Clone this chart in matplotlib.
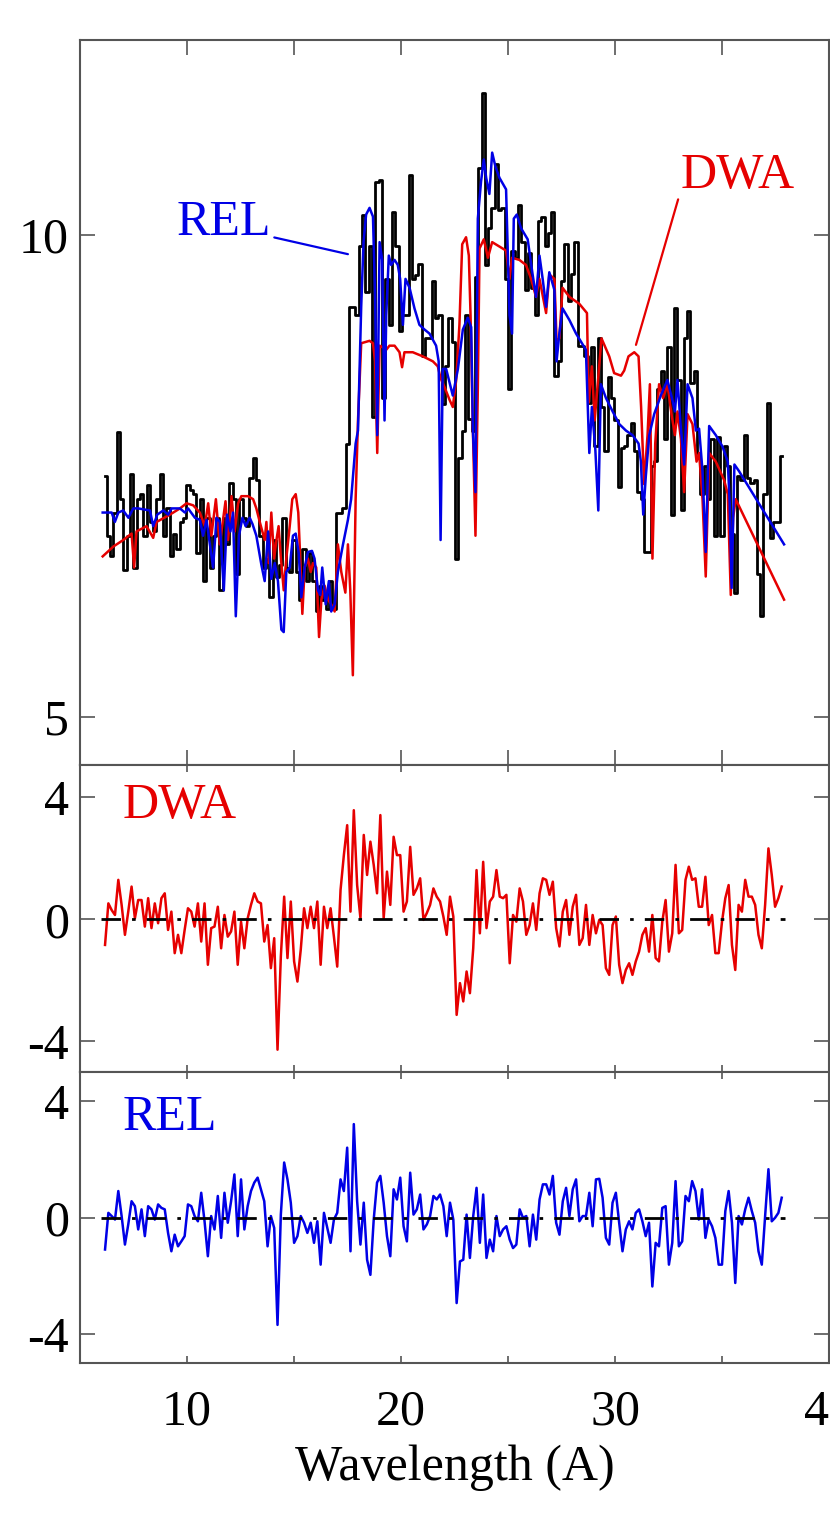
import matplotlib
matplotlib.use('Agg')
import matplotlib.pyplot as plt
from matplotlib.ticker import MultipleLocator, FixedLocator, FixedFormatter, NullLocator

plt.rcParams['font.family'] = ['Liberation Serif', 'DejaVu Serif']
plt.rcParams['axes.unicode_minus'] = False

# bin centres (Angstrom), shared by the data histogram and both residual series
wave = [
    6.170, 6.325, 6.480, 6.635, 6.790, 6.945, 7.100, 7.255, 7.410, 7.565,
    7.720, 7.875, 8.030, 8.185, 8.340, 8.495, 8.650, 8.805, 8.960, 9.115,
    9.270, 9.425, 9.580, 9.735, 9.890, 10.045, 10.200, 10.355, 10.510, 10.665,
    10.820, 10.975, 11.130, 11.285, 11.440, 11.595, 11.750, 11.905, 12.060, 12.215,
    12.370, 12.525, 12.680, 12.835, 12.990, 13.145, 13.300, 13.455, 13.610, 13.765,
    13.920, 14.075, 14.230, 14.385, 14.540, 14.695, 14.850, 15.005, 15.160, 15.315,
    15.470, 15.625, 15.780, 15.935, 16.090, 16.245, 16.400, 16.555, 16.710, 16.865,
    17.020, 17.175, 17.330, 17.485, 17.640, 17.795, 17.950, 18.105, 18.260, 18.415,
    18.570, 18.725, 18.880, 19.035, 19.190, 19.345, 19.500, 19.655, 19.810, 19.965,
    20.120, 20.275, 20.430, 20.585, 20.740, 20.895, 21.050, 21.205, 21.360, 21.515,
    21.670, 21.825, 21.980, 22.135, 22.290, 22.445, 22.600, 22.755, 22.910, 23.065,
    23.220, 23.375, 23.530, 23.685, 23.840, 23.995, 24.150, 24.305, 24.460, 24.615,
    24.770, 24.925, 25.080, 25.235, 25.390, 25.545, 25.700, 25.855, 26.010, 26.165,
    26.320, 26.475, 26.630, 26.785, 26.940, 27.095, 27.250, 27.405, 27.560, 27.715,
    27.870, 28.025, 28.180, 28.335, 28.490, 28.645, 28.800, 28.955, 29.110, 29.265,
    29.420, 29.575, 29.730, 29.885, 30.040, 30.195, 30.350, 30.505, 30.660, 30.815,
    30.970, 31.125, 31.280, 31.435, 31.590, 31.745, 31.900, 32.055, 32.210, 32.365,
    32.520, 32.675, 32.830, 32.985, 33.140, 33.295, 33.450, 33.605, 33.760, 33.915,
    34.070, 34.225, 34.380, 34.535, 34.690, 34.845, 35.000, 35.155, 35.310, 35.465,
    35.620, 35.775, 35.930, 36.085, 36.240, 36.395, 36.550, 36.705, 36.860, 37.015,
    37.170, 37.325, 37.480, 37.635, 37.790,
]

# observed spectrum
data_flux = [
    7.07, 6.49, 6.30, 6.71, 7.53, 6.84, 6.18, 6.49, 7.09, 6.20,
    6.84, 6.89, 6.49, 6.98, 6.62, 6.53, 6.84, 7.09, 6.49, 6.75,
    6.30, 6.51, 6.37, 6.62, 6.66, 6.98, 6.93, 6.89, 6.33, 6.84,
    6.08, 6.66, 6.20, 6.49, 6.66, 6.00, 6.66, 6.41, 7.00, 6.84,
    6.14, 6.84, 6.66, 6.58, 7.05, 7.26, 7.03, 6.49, 6.20, 6.28,
    5.94, 6.45, 6.12, 6.22, 6.66, 6.20, 6.16, 6.45, 6.16, 5.92,
    6.37, 6.08, 6.33, 6.08, 5.82, 6.04, 5.92, 5.84, 6.08, 5.84,
    6.71, 6.71, 6.75, 7.41, 9.02, 9.02, 8.91, 9.84, 10.30, 9.21,
    9.84, 7.70, 10.80, 10.83, 7.91, 9.39, 8.79, 10.34, 9.84, 8.71,
    8.91, 8.91, 10.90, 9.39, 9.44, 9.60, 8.40, 8.62, 8.62, 9.36,
    8.88, 8.91, 7.84, 8.28, 8.88, 8.57, 6.28, 7.26, 7.55, 8.91,
    7.68, 7.55, 9.42, 11.01, 12.27, 9.58, 10.10, 10.40, 11.07, 10.37,
    10.40, 9.39, 8.02, 9.78, 9.68, 10.44, 9.90, 9.24, 9.74, 9.27,
    8.91, 10.20, 10.27, 9.84, 10.03, 10.34, 8.17, 8.34, 9.36, 9.87,
    9.09, 9.45, 9.90, 8.53, 8.53, 8.40, 7.86, 8.51, 7.38, 8.62,
    7.81, 7.33, 8.15, 7.91, 7.66, 6.96, 7.36, 7.38, 7.50, 7.63,
    7.33, 6.91, 6.84, 6.34, 6.34, 7.17, 7.23, 8.02, 8.23, 7.46,
    8.51, 6.69, 9.00, 8.12, 6.73, 8.62, 8.97, 8.09, 8.23, 7.31,
    6.89, 7.17, 6.84, 7.46, 6.49, 7.48, 6.49, 7.38, 7.17, 6.51,
    5.98, 7.07, 7.03, 7.50, 7.05, 7.00, 7.03, 6.14, 5.78, 6.89,
    7.86, 6.47, 6.62, 6.62, 7.28,
]

# DWA model curve
dwa_wave = [
    6.06, 6.56, 7.02, 7.41, 7.53, 7.64, 8.11, 8.42, 8.58, 9.20,
    9.67, 9.98, 10.29, 10.60, 10.83, 10.99, 11.14, 11.35, 11.53, 11.80,
    11.92, 12.08, 12.23, 12.39, 12.54, 12.85, 13.09, 13.24, 13.40, 13.63,
    13.71, 13.82, 13.94, 14.07, 14.18, 14.28, 14.39, 14.52, 14.64, 14.80,
    14.92, 15.08, 15.20, 15.30, 15.39, 15.50, 15.65, 15.78, 15.89, 16.04,
    16.17, 16.28, 16.43, 16.59, 16.74, 16.90, 17.05, 17.21, 17.40, 17.52,
    17.63, 17.75, 17.88, 17.99, 18.14, 18.53, 18.69, 18.79, 18.89, 19.00,
    19.15, 19.31, 19.46, 19.70, 19.93, 20.05, 20.16, 20.55, 21.02, 21.49,
    21.72, 21.85, 22.03, 22.27, 22.42, 22.58, 22.73, 22.86, 23.04, 23.17,
    23.25, 23.36, 23.48, 23.59, 23.67, 23.87, 24.06, 24.26, 24.91, 25.07,
    25.19, 25.53, 25.84, 26.08, 26.31, 26.47, 26.78, 26.93, 27.17, 27.27,
    27.40, 27.55, 27.87, 28.33, 28.69, 28.77, 28.92, 29.05, 29.37, 29.73,
    29.96, 30.28, 30.43, 30.63, 30.90, 31.10, 31.22, 31.36, 31.52, 31.63,
    31.75, 31.88, 32.06, 32.25, 32.45, 32.64, 32.80, 32.92, 33.08, 33.23,
    33.39, 33.62, 33.81, 33.93, 34.09, 34.24, 34.40, 34.71, 35.10, 35.27,
    35.41, 35.52, 35.64, 37.90,
]
dwa_flux = [
    6.30, 6.39, 6.45, 6.51, 6.20, 6.53, 6.58, 6.47, 6.62, 6.69,
    6.75, 6.80, 6.78, 6.71, 6.58, 6.80, 6.49, 6.84, 6.41, 6.82,
    6.45, 6.87, 6.53, 6.80, 6.87, 6.87, 6.84, 6.75, 6.62, 6.45,
    6.62, 6.24, 6.71, 6.28, 6.45, 6.58, 6.28, 6.00, 6.28, 6.58,
    6.84, 6.89, 6.71, 6.24, 5.80, 6.20, 6.28, 6.16, 6.24, 6.20,
    5.61, 5.92, 6.04, 5.92, 5.88, 5.82, 6.41, 6.16, 5.98, 6.41,
    6.00, 5.31, 6.84, 7.66, 8.56, 8.59, 8.56, 8.34, 7.31, 8.53,
    8.51, 8.48, 8.53, 8.53, 8.45, 8.27, 8.45, 8.45, 8.40, 8.34,
    8.28, 8.14, 8.04, 7.89, 7.81, 8.12, 8.79, 9.87, 9.97, 9.71,
    8.91, 7.55, 6.49, 8.02, 9.81, 9.94, 9.68, 9.90, 9.78, 9.39,
    9.68, 9.65, 9.58, 9.39, 9.15, 9.39, 8.94, 9.45, 9.39, 8.59,
    8.62, 9.27, 9.15, 9.06, 8.94, 7.86, 8.28, 7.66, 8.62, 8.40,
    8.20, 8.17, 8.23, 8.40, 8.45, 8.40, 7.81, 6.99, 7.50, 8.07,
    6.28, 7.41, 8.07, 7.91, 8.07, 7.73, 7.50, 7.76, 7.46, 6.91,
    7.73, 7.62, 7.22, 7.31, 6.84, 6.12, 7.31, 7.22, 7.03, 6.89,
    5.96, 6.66, 6.84, 5.92,
]

# REL model curve
rel_wave = [
    6.06, 6.48, 6.63, 6.79, 7.02, 7.26, 7.49, 7.72, 8.27, 8.42,
    8.61, 8.89, 9.12, 9.28, 9.67, 9.90, 10.05, 10.37, 10.60, 10.75,
    10.91, 11.07, 11.22, 11.38, 11.53, 11.72, 11.87, 12.03, 12.15, 12.28,
    12.43, 12.59, 12.74, 12.93, 13.06, 13.24, 13.48, 13.63, 13.79, 13.94,
    14.10, 14.25, 14.41, 14.52, 14.64, 14.80, 14.95, 15.08, 15.22, 15.34,
    15.50, 15.65, 15.84, 15.96, 16.12, 16.23, 16.32, 16.48, 16.63, 16.74,
    16.90, 17.05, 17.29, 17.52, 17.67, 17.88, 17.99, 18.14, 18.25, 18.37,
    18.53, 18.69, 18.79, 18.89, 19.00, 19.12, 19.23, 19.31, 19.43, 19.54,
    19.70, 19.85, 19.96, 20.09, 20.21, 20.40, 20.63, 20.86, 21.10, 21.33,
    21.64, 21.76, 21.85, 21.95, 22.11, 22.42, 22.66, 22.89, 23.12, 23.28,
    23.36, 23.48, 23.59, 23.74, 23.87, 23.98, 24.13, 24.26, 24.41, 24.60,
    24.91, 25.07, 25.19, 25.27, 25.41, 25.61, 25.92, 26.15, 26.31, 26.47,
    26.62, 26.78, 26.93, 27.17, 27.27, 27.40, 27.55, 27.87, 28.18, 28.64,
    28.80, 28.92, 29.08, 29.22, 29.34, 29.58, 29.89, 30.20, 30.51, 30.82,
    31.10, 31.21, 31.32, 31.44, 31.60, 31.83, 32.14, 32.45, 32.66, 32.80,
    32.92, 33.08, 33.23, 33.39, 33.62, 33.78, 33.93, 34.09, 34.24, 34.40,
    34.71, 35.02, 35.27, 35.36, 35.45, 35.58, 35.80, 37.90,
]
rel_flux = [
    6.71, 6.71, 6.62, 6.71, 6.73, 6.66, 6.75, 6.75, 6.73, 6.58,
    6.69, 6.73, 6.69, 6.75, 6.75, 6.71, 6.75, 6.66, 6.64, 6.49,
    6.64, 6.41, 6.20, 6.66, 6.62, 6.00, 6.69, 6.53, 6.71, 5.78,
    6.49, 6.66, 6.58, 6.66, 6.60, 6.49, 6.22, 6.08, 6.53, 6.10,
    6.24, 6.08, 5.67, 5.65, 6.16, 6.20, 6.49, 6.51, 6.33, 5.94,
    6.20, 6.34, 6.35, 6.28, 6.00, 5.96, 6.20, 5.88, 6.08, 5.82,
    5.88, 6.16, 6.41, 6.64, 6.84, 7.41, 7.55, 9.02, 9.90, 10.30,
    10.40, 10.27, 9.15, 7.50, 9.90, 9.65, 7.66, 8.91, 9.71, 9.58,
    9.65, 9.58, 9.39, 8.79, 9.39, 9.27, 9.00, 8.79, 8.73, 8.68,
    8.53, 8.34, 6.45, 8.25, 8.25, 7.94, 8.25, 8.73, 8.88, 8.76,
    7.55, 6.91, 10.24, 10.80, 11.15, 10.86, 10.61, 11.26, 11.04, 10.86,
    10.68, 8.91, 8.68, 10.24, 10.30, 10.10, 9.94, 9.45, 9.15, 9.71,
    9.39, 9.02, 9.48, 9.24, 8.34, 8.68, 9.00, 8.85, 8.68, 8.48,
    7.31, 7.81, 7.35, 6.73, 8.07, 7.91, 7.76, 7.62, 7.55, 7.50,
    7.41, 7.22, 6.69, 7.07, 7.50, 7.73, 7.94, 8.12, 7.91, 7.76,
    8.12, 7.57, 7.19, 8.07, 7.91, 7.55, 7.57, 7.12, 6.34, 7.60,
    7.50, 7.38, 7.22, 6.80, 6.02, 7.19, 7.12, 6.41,
]

# residuals (data - model) / error
resid_dwa = [
    -0.84, 0.52, 0.30, 0.14, 1.29, 0.47, -0.51, 0.25, 1.07, 0.03,
    0.63, 0.63, -0.24, 0.69, -0.29, 0.52, -0.13, 0.69, 0.85, -0.35,
    0.25, -1.11, -0.51, -1.11, -0.35, 0.36, 0.25, -0.24, 0.52, -0.73,
    0.52, -1.49, -0.29, -0.24, 0.41, -0.95, 0.14, -0.57, -0.40, 0.25,
    -1.49, -0.08, -0.95, 0.03, 0.47, 0.85, 0.58, 0.52, -0.73, -0.19,
    -1.60, -0.62, -4.27, -1.22, 0.74, -1.27, 0.58, -1.38, -2.04, -1.00,
    0.36, -0.29, 0.41, -0.29, 0.58, -1.49, 0.41, -0.29, 0.36, -0.57,
    -1.55, 0.96, 2.10, 3.08, 0.25, 3.57, 1.12, 0.03, 2.76, 1.45,
    2.54, 1.78, 0.85, 3.41, 0.03, 1.56, 0.47, 2.70, 2.10, 2.10,
    0.25, 0.58, 2.37, 0.80, 1.01, 1.34, -0.02, 0.20, 0.47, 1.01,
    0.74, 0.58, 0.09, -0.51, 0.74, 0.09, -3.13, -2.09, -2.69, -1.71,
    -2.42, -0.95, 1.61, -0.46, 1.88, -0.29, 0.58, 0.74, 1.61, 0.74,
    0.69, 0.80, -1.44, 0.14, -0.08, 1.01, 0.58, -0.51, -0.19, 0.52,
    -0.35, 0.85, 1.34, 1.29, 0.80, 1.23, -0.29, -0.89, 0.25, 0.63,
    -0.51, 0.41, 0.80, -0.84, -0.62, 0.47, -0.84, 0.14, -0.46, -0.02,
    -0.19, -1.60, -1.82, -0.19, 0.09, -1.49, -2.09, -1.66, -1.44, -1.82,
    -1.38, -1.06, -0.51, -0.29, -1.06, 0.14, -1.27, -1.38, -0.08, 0.63,
    -1.06, -0.46, 1.78, -0.46, -0.35, 1.29, 1.72, 1.29, 1.34, 0.41,
    0.41, 1.39, -0.19, 0.14, -1.11, -1.11, -0.08, 0.69, 1.12, -0.84,
    -1.66, 0.47, 0.25, 1.29, 0.74, 0.74, 0.47, -0.51, -0.95, 0.47,
    2.32, 1.45, 0.41, 0.69, 1.07,
]
resid_rel = [
    -1.10, 0.16, 0.05, -0.07, 0.91, 0.05, -0.93, -0.24, 0.56, 0.39,
    -0.41, 0.28, -0.64, 0.39, 0.28, -0.07, 0.45, 0.33, 0.28, -0.53,
    -1.16, -0.59, -0.99, -0.82, -0.64, 0.45, 0.39, 0.05, -0.13, 0.85,
    -0.13, -1.33, 0.05, -0.41, 0.74, -0.70, 0.85, -0.18, 0.56, 1.48,
    -0.64, 1.31, -0.41, 0.39, 0.91, 1.20, 1.37, 0.97, 0.56, -0.99,
    0.05, -0.36, -3.69, 0.10, 1.89, 1.31, 0.51, -0.87, -0.64, 0.05,
    -0.18, -0.53, -0.18, -0.87, -0.13, -1.62, 0.16, -0.36, -0.87, -0.07,
    0.16, 1.31, 0.91, 2.40, -1.16, 3.21, 0.56, -0.93, 0.51, -1.45,
    -1.97, -0.07, 1.20, 1.43, 0.51, -0.64, -1.33, 0.97, 0.62, 1.37,
    -0.30, -0.82, 1.54, 0.10, 0.28, 0.79, -0.41, -0.24, 0.05, 0.74,
    0.62, 0.79, 0.39, -0.64, 0.51, -0.07, -2.94, -1.51, -1.45, 0.10,
    -1.39, 0.05, 1.02, -0.87, 0.79, -1.39, -0.76, -1.16, 0.05, -0.64,
    -0.41, -0.30, -0.76, -1.05, -0.93, 0.28, -0.01, 0.05, -0.99, 0.10,
    -0.76, 0.62, 1.14, 1.14, 0.79, 1.43, -0.18, -0.59, 0.56, 1.02,
    0.05, 0.97, 1.31, -0.13, 0.05, 0.05, 0.85, -0.30, 1.31, 1.33,
    0.68, -0.70, -0.93, 0.51, 0.85, -0.18, -1.16, -0.41, -0.13, -0.41,
    0.16, 0.28, -0.13, -0.64, -0.18, -2.37, -0.87, -0.99, 0.33, 0.39,
    -1.62, -0.87, 1.25, -0.99, -0.82, 0.74, 0.56, 1.25, 0.91, -0.07,
    0.97, -0.70, -0.07, -0.30, -0.70, -1.62, -1.62, 0.22, 0.91, -0.18,
    -2.25, 0.05, -0.24, 0.28, 0.68, 0.22, -0.18, -1.16, -1.62, 0.05,
    1.66, -0.13, -0.01, 0.16, 0.68,
]

RED = '#e60000'
BLUE = '#0000e6'
SPINE = '#555555'
FS = 36

fig = plt.figure(figsize=(8.30, 15.33), dpi=100)
left, width = 80 / 830, 749 / 830
ax1 = fig.add_axes([left, 0.50098, width, 0.47293])
ax2 = fig.add_axes([left, 0.30072, width, 0.20026])
ax3 = fig.add_axes([left, 0.11089, width, 0.18982])

# top panel: spectrum and the two models
ax1.step(wave, data_flux, where='mid', color='black', lw=2.0, zorder=2)
ax1.plot(dwa_wave, dwa_flux, color=RED, lw=1.8, zorder=3)
ax1.plot(rel_wave, rel_flux, color=BLUE, lw=1.8, zorder=4)
ax1.set_yscale('log')
ax1.set_ylim(4.667, 13.24)
ax1.yaxis.set_major_locator(FixedLocator([5, 10]))
ax1.yaxis.set_major_formatter(FixedFormatter(['5', '10']))
ax1.yaxis.set_minor_locator(NullLocator())

ax1.annotate('REL', xy=(17.52, 9.73), xytext=(13.95, 10.0),
             textcoords='data', ha='right', va='baseline', color=BLUE, fontsize=FS,
             arrowprops=dict(arrowstyle='-', color=BLUE, lw=1.6, shrinkA=0, shrinkB=0,
                             relpos=(1.0, 0.2)))
ax1.annotate('DWA', xy=(30.98, 8.54), xytext=(33.08, 10.70),
             textcoords='data', ha='left', va='baseline', color=RED, fontsize=FS,
             arrowprops=dict(arrowstyle='-', color=RED, lw=1.6, shrinkA=0, shrinkB=0,
                             relpos=(0.0, 0.2)))

# residual panels
for ax, res, col, name in [(ax2, resid_dwa, RED, 'DWA'), (ax3, resid_rel, BLUE, 'REL')]:
    ax.plot(wave, res, color=col, lw=1.8, zorder=3)
    ax.plot([wave[0] - 0.17, wave[-1] + 0.17], [0, 0], color='black', lw=2.0,
            dashes=(7, 4, 1.3, 4), zorder=4)
    ax.yaxis.set_major_locator(FixedLocator([-4, 0, 4]))
    ax.yaxis.set_major_formatter(FixedFormatter(['-4', '0', '4']))
    ax.text(7.0, 3.0 if name == 'REL' else 3.3, name, color=col, fontsize=FS,
            ha='left', va='baseline')
ax2.set_ylim(-5.0, 5.05)
ax3.set_ylim(-5.0, 5.0)

for ax in (ax1, ax2, ax3):
    ax.set_xlim(5, 40)
    ax.xaxis.set_major_locator(MultipleLocator(10))
    ax.xaxis.set_minor_locator(MultipleLocator(5))
    for s in ax.spines.values():
        s.set_color(SPINE)
        s.set_linewidth(1.5)
    ax.tick_params(which='both', direction='in', top=True, right=True,
                   color=SPINE, width=1.2, labelsize=FS, labelcolor='black')
    ax.tick_params(axis='y', which='major', length=11, pad=8)
    xlen = 11 if ax is ax1 else 5
    ax.tick_params(axis='x', which='both', length=xlen, pad=19)
    if ax is not ax3:
        ax.tick_params(axis='x', labelbottom=False)

ax3.set_xlabel('Wavelength (A)', fontsize=FS, labelpad=6)

fig.savefig('out.png', dpi=100)
